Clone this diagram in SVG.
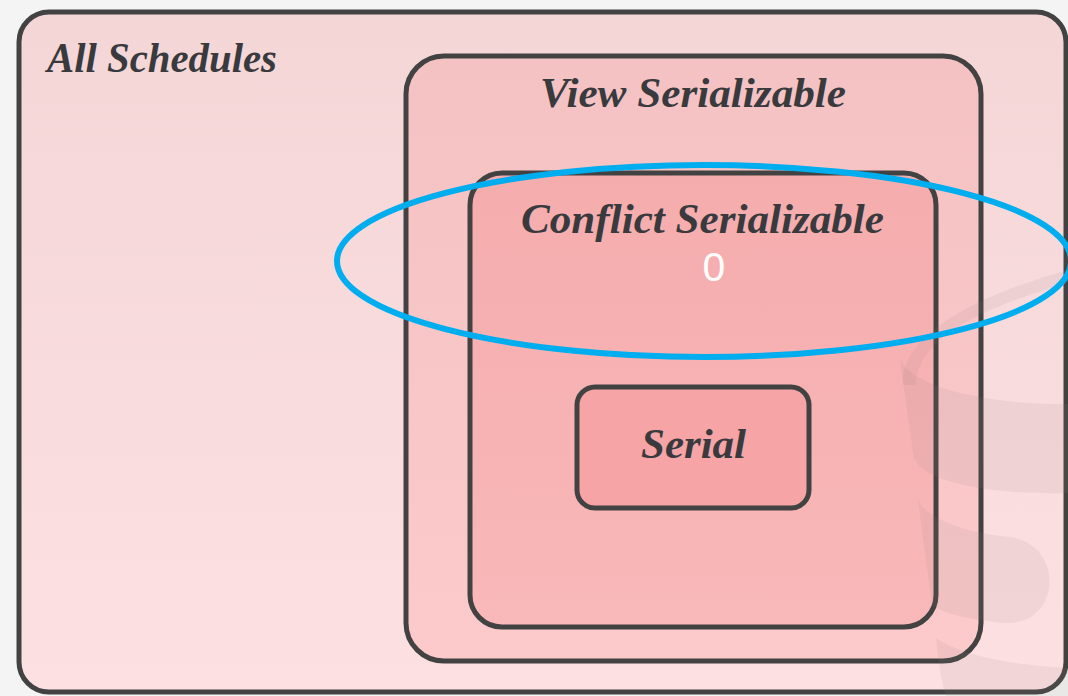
<svg xmlns="http://www.w3.org/2000/svg" width="1068" height="696" viewBox="0 0 1068 696">
  <defs>
    <linearGradient id="gAll" x1="0" y1="0" x2="0" y2="1">
      <stop offset="0" stop-color="#f4d6d7"/>
      <stop offset="1" stop-color="#fde0e1"/>
    </linearGradient>
    <linearGradient id="gView" x1="0" y1="0" x2="0" y2="1">
      <stop offset="0" stop-color="#f5c2c3"/>
      <stop offset="1" stop-color="#fccacb"/>
    </linearGradient>
    <linearGradient id="gConflict" x1="0" y1="0" x2="0" y2="1">
      <stop offset="0" stop-color="#f5acad"/>
      <stop offset="1" stop-color="#f9b8b9"/>
    </linearGradient>
    <style>
      .box { stroke: #424242; stroke-width: 5; }
      .label { font-family: "Liberation Serif", "DejaVu Serif", serif; font-style: italic; font-weight: bold; font-size: 42px; fill: #393a3e; }
      .mark { fill: #9a7c7e; fill-opacity: 0.11; }
      .hl { fill: none; stroke: #00adee; stroke-width: 6; }
    </style>
  </defs>

  <!-- page background -->
  <rect x="0" y="0" width="1068" height="696" fill="#f4f4f4"/>

  <!-- outermost set -->
  <g id="all-schedules">
    <rect class="box" x="19" y="12" width="1047" height="680" rx="30" fill="url(#gAll)"/>
    <text class="label" x="47" y="72" textLength="230" lengthAdjust="spacingAndGlyphs">All Schedules</text>
  </g>

  <g id="view-serializable">
    <rect class="box" x="406" y="56" width="575" height="605" rx="38" fill="url(#gView)"/>
    <text class="label" x="540" y="107" textLength="306" lengthAdjust="spacingAndGlyphs">View Serializable</text>
  </g>

  <g id="conflict-serializable">
    <rect class="box" x="470" y="173" width="466" height="454" rx="32" fill="url(#gConflict)"/>
    <text class="label" x="521" y="233" font-size="40" textLength="363" lengthAdjust="spacingAndGlyphs">Conflict Serializable</text>
  </g>

  <g id="serial">
    <rect class="box" x="577" y="387" width="232" height="121" rx="18" fill="#f6a4a6"/>
    <text class="label" x="641" y="458" textLength="105" lengthAdjust="spacingAndGlyphs">Serial</text>
  </g>

  <!-- faint logo watermark in the lower right -->
  <g id="watermark">
    <path class="mark" d="M 903 385 C 900 330 990 292 1068 270 L 1068 283 C 995 304 916 335 916 385 Z"/>
    <path class="mark" d="M 900 358 C 910 390 1000 405 1068 404 L 1068 493 C 990 495 915 482 913 453 Z"/>
    <path class="mark" d="M 918 500 C 930 525 985 535 1010 537 C 1065 545 1062 625 1005 623 C 975 620 945 615 932 605 Z"/>
    <path class="mark" d="M 936 638 C 965 658 1025 666 1068 668 L 1068 696 L 946 696 C 941 680 938 660 936 638 Z"/>
  </g>

  <!-- highlight annotation -->
  <g id="highlight">
    <ellipse class="hl" cx="704" cy="261" rx="367" ry="96"/>
    <text x="714" y="281" text-anchor="middle" font-family="'Liberation Sans', Arial, sans-serif" font-size="41" fill="#ffffff">0</text>
  </g>
</svg>
